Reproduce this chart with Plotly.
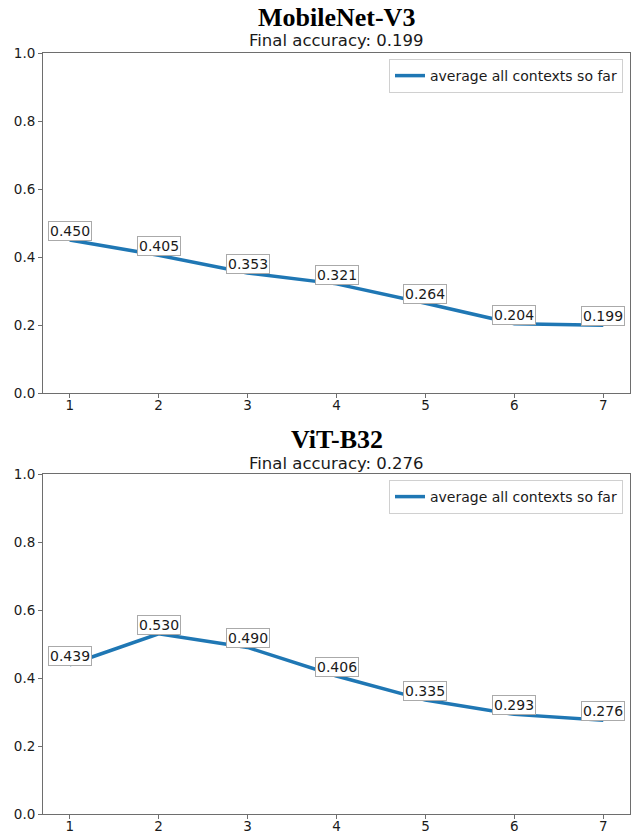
import plotly.graph_objects as go

contexts = [1, 2, 3, 4, 5, 6, 7]
mobilenet_acc = [0.450, 0.405, 0.353, 0.321, 0.264, 0.204, 0.199]
vit_acc = [0.439, 0.530, 0.490, 0.406, 0.335, 0.293, 0.276]
model_names = ["MobileNet-V3", "ViT-B32"]
series_name = "average all contexts so far"
y_ticks = [0.0, 0.2, 0.4, 0.6, 0.8, 1.0]

W, H = 641, 836
BLUE = "#1f77b4"
SPINE = "#6e6e6e"
TXT = "#1a1a1a"
SANS = "DejaVu Sans"

fig = go.Figure()

# pixel layout -> paper coords
x0, x1 = 43 / W, 630 / W
panels = [
    dict(top=53, bottom=393, title_y=17, sub_y=41, leg_top=59),
    dict(top=474, bottom=814, title_y=439, sub_y=463, leg_top=480),
]
datasets = [mobilenet_acc, vit_acc]

annotations = []
for i, (p, vals, name) in enumerate(zip(panels, datasets, model_names)):
    xa = "x" if i == 0 else "x2"
    ya = "y" if i == 0 else "y2"
    leg = "legend" if i == 0 else "legend2"
    fig.add_trace(go.Scatter(
        x=contexts, y=vals, mode="lines", name=series_name,
        line=dict(color=BLUE, width=3.5),
        xaxis=xa, yaxis=ya, legend=leg, showlegend=True,
    ))
    for xv, yv in zip(contexts, vals):
        annotations.append(dict(
            x=xv, y=yv, xref=xa, yref=ya, text=f"{yv:.3f}",
            showarrow=False, yanchor="middle", xanchor="center", yshift=9,
            font=dict(family=SANS, size=14, color=TXT),
            bgcolor="white", bordercolor="#aaaaaa", borderwidth=1, borderpad=1,
        ))
    xc = (x0 + x1) / 2
    annotations.append(dict(
        x=xc, y=1 - p["title_y"] / H, xref="paper", yref="paper",
        text=f"<b>{name}</b>", showarrow=False, xanchor="center", yanchor="middle",
        font=dict(family="Liberation Serif", size=26, color="black"),
    ))
    annotations.append(dict(
        x=xc, y=1 - p["sub_y"] / H, xref="paper", yref="paper",
        text=f"Final accuracy: {vals[-1]:.3f}", showarrow=False,
        xanchor="center", yanchor="middle",
        font=dict(family=SANS, size=16.5, color=TXT),
    ))
    axis_common = dict(
        showline=True, linecolor=SPINE, linewidth=1, mirror=True,
        showgrid=False, zeroline=False, ticks="outside", ticklen=4,
        tickcolor=SPINE, tickfont=dict(family=SANS, size=13.5, color=TXT),
        automargin=False,
    )
    xkey = "xaxis" if i == 0 else "xaxis2"
    ykey = "yaxis" if i == 0 else "yaxis2"
    fig.update_layout({
        xkey: dict(domain=[x0, x1], range=[0.7, 7.3], tickmode="array",
                   tickvals=contexts, anchor=ya, ticklabelstandoff=-4, **axis_common),
        ykey: dict(domain=[1 - p["bottom"] / H, 1 - p["top"] / H], range=[0, 1],
                   tickmode="array", tickvals=y_ticks,
                   ticktext=[f"{t:.1f}" for t in y_ticks], anchor=xa, **axis_common),
        leg: dict(x=623 / W, y=1 - p["leg_top"] / H, xanchor="right", yanchor="top",
                  bgcolor="white", bordercolor="#d0d0d0", borderwidth=1,
                  font=dict(family=SANS, size=14, color=TXT)),
    })

fig.update_layout(
    template="none",
    width=W, height=H, margin=dict(l=0, r=0, t=0, b=0, pad=0, autoexpand=False),
    paper_bgcolor="white", plot_bgcolor="white",
    annotations=annotations,
)

fig.write_html(
    "out.html",
    config={"displayModeBar": False},
    post_script="document.body.style.margin='0px';document.body.style.padding='0px';"
                "document.documentElement.style.overflow='hidden';",
)
